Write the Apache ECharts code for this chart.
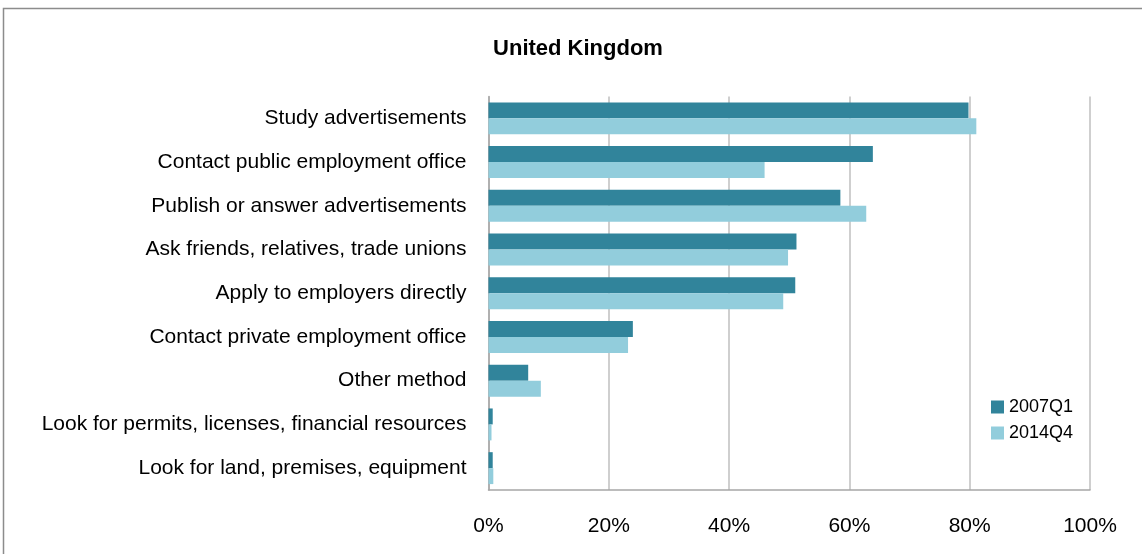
<!DOCTYPE html>
<html>
<head>
<meta charset="utf-8">
<script src="https://cdn.jsdelivr.net/npm/echarts@6/dist/echarts.min.js"></script>
<style>
  html, body { margin: 0; padding: 0; background: #fff; }
  #chart { width: 1142px; height: 554px; }
</style>
</head>
<body>
<div id="chart"></div>
<script>
// Job search methods used by the unemployed, share in percent
const categories = [
  'Study advertisements',
  'Contact public employment office',
  'Publish or answer advertisements',
  'Ask friends, relatives, trade unions',
  'Apply to employers directly',
  'Contact private employment office',
  'Other method',
  'Look for permits, licenses, financial resources',
  'Look for land, premises, equipment'
];
const values2007Q1 = [79.8, 63.9, 58.5, 51.2, 51.0, 24.0, 6.6, 0.7, 0.7];
const values2014Q4 = [81.1, 45.9, 62.8, 49.8, 49.0, 23.2, 8.7, 0.5, 0.8];
const seriesNames = ['2007Q1', '2014Q4'];
const xTicks = [0, 20, 40, 60, 80, 100];

const font = '"Liberation Sans", "DejaVu Sans", sans-serif';
const chart = echarts.init(document.getElementById('chart'));

chart.setOption({
  animation: false,
  backgroundColor: '#ffffff',
  textStyle: { fontFamily: font },
  title: {
    text: 'United Kingdom',
    left: 578,
    top: 38,
    textAlign: 'center',
    padding: 0,
    textStyle: { fontFamily: font, fontSize: 22, fontWeight: 'bold', color: '#000' }
  },
  graphic: [{
    type: 'rect',
    shape: { x: 3.5, y: 8.5, width: 1150, height: 560 },
    style: { fill: 'none', stroke: '#8c8c8c', lineWidth: 1.5 },
    silent: true,
    z: -1
  }],
  legend: {
    orient: 'vertical',
    left: 991,
    top: 398,
    padding: 0,
    itemWidth: 13,
    itemHeight: 13,
    itemGap: 8,
    icon: 'rect',
    data: seriesNames,
    textStyle: { fontFamily: font, fontSize: 18, color: '#000' }
  },
  grid: { left: 488.5, right: 52, top: 96.5, bottom: 64 },
  xAxis: {
    type: 'value',
    min: xTicks[0],
    max: xTicks[xTicks.length - 1],
    interval: 20,
    axisLine: { show: true, lineStyle: { color: '#a6a6a6', width: 1.5 } },
    axisTick: { show: false },
    splitLine: { show: true, lineStyle: { color: '#bfbfbf', width: 1.5 } },
    axisLabel: {
      formatter: v => v + '%',
      fontFamily: font, fontSize: 21, color: '#000', margin: 26
    }
  },
  yAxis: {
    type: 'category',
    data: categories,
    inverse: true,
    axisLine: { show: true, lineStyle: { color: '#a6a6a6', width: 1.5 } },
    axisTick: { show: false },
    axisLabel: { fontFamily: font, fontSize: 21, color: '#000', margin: 22 }
  },
  series: [
    {
      name: seriesNames[0],
      type: 'bar',
      data: values2007Q1,
      barGap: '0%',
      barCategoryGap: '27%',
      itemStyle: { color: '#31849b' }
    },
    {
      name: seriesNames[1],
      type: 'bar',
      data: values2014Q4,
      barGap: '0%',
      barCategoryGap: '27%',
      itemStyle: { color: '#92cddc' }
    }
  ]
});
</script>
</body>
</html>
